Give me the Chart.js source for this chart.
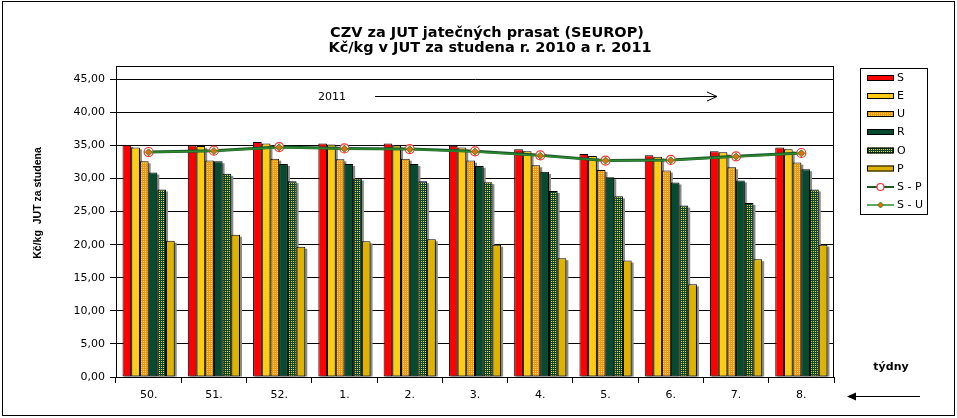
<!DOCTYPE html>
<html>
<head>
<meta charset="utf-8">
<script src="https://cdn.jsdelivr.net/npm/chart.js@4/dist/chart.umd.min.js"></script>
<style>
html,body{margin:0;padding:0;background:#fff;}
canvas{display:block;}
</style>
</head>
<body>
<canvas id="c" width="957" height="418"></canvas>
<script>
// ---- data ----
const categories = ['50.','51.','52.','1.','2.','3.','4.','5.','6.','7.','8.'];
const seriesS = [35.05,35.0,35.5,35.3,35.3,34.95,34.4,33.7,33.5,34.1,34.7];
const seriesE = [34.7,34.9,35.3,35.15,35.0,34.7,34.1,33.4,33.3,33.95,34.4];
const seriesU = [32.6,32.7,33.0,32.9,33.0,32.7,32.0,31.3,31.2,31.7,32.4];
const seriesR = [30.9,32.6,32.2,32.2,32.2,31.9,31.0,30.2,29.4,29.7,31.4];
const seriesO = [28.35,30.7,29.6,30.0,29.6,29.45,28.1,27.3,25.9,26.3,28.35];
const seriesP = [20.6,21.5,19.7,20.5,20.8,20.0,17.95,17.6,14.0,17.8,20.0];
const seriesSP = [34.0,34.2,34.75,34.55,34.45,34.1,33.5,32.7,32.8,33.35,33.85];
const seriesSU = [33.95,34.15,34.7,34.5,34.4,34.05,33.45,32.7,32.75,33.3,33.8];
const yTicks = [0,5,10,15,20,25,30,35,40,45];
const titleLines = ['CZV za JUT jatečných prasat (SEUROP)','Kč/kg v JUT za studena r. 2010 a r. 2011'];
const yTitle = 'Kč/kg  JUT za studena';
const xTitle = 'týdny';
const yearLabel = '2011';

// ---- patterns ----
const ctx0 = document.getElementById('c').getContext('2d');
function dotPattern(bg, dot){
  const c = document.createElement('canvas'); c.width = 2; c.height = 2;
  const x = c.getContext('2d');
  x.fillStyle = bg; x.fillRect(0,0,2,2);
  x.fillStyle = dot; x.fillRect(1,1,1,1);
  return ctx0.createPattern(c,'repeat');
}
const patU = dotPattern('#EE9A10', '#FFD060');
const patO = dotPattern('#0A4526', '#E8E020');

const barStyles = [
  {label:'S', data:seriesS, bg:'#FF0000'},
  {label:'E', data:seriesE, bg:'#FFCC14'},
  {label:'U', data:seriesU, bg:patU},
  {label:'R', data:seriesR, bg:'#064A30'},
  {label:'O', data:seriesO, bg:patO},
  {label:'P', data:seriesP, bg:'#DDB300'}
];

const datasets = barStyles.map(b => ({
  type:'bar', label:b.label, data:b.data, backgroundColor:b.bg,
  borderColor:'#000', borderWidth:1, borderSkipped:false, order:2,
  categoryPercentage:0.8, barPercentage:1.0
}));
datasets.push({
  type:'line', label:'S - P', data:seriesSP, borderColor:'#1A5A2C', borderWidth:3,
  pointStyle:'circle', pointRadius:4.5, pointBorderColor:'#FF3030', pointBackgroundColor:'rgba(255,255,255,0.85)',
  pointBorderWidth:1.2, tension:0, order:1, fill:false
});
datasets.push({
  type:'line', label:'S - U', data:seriesSU, borderColor:'#2E8A2E', borderWidth:1.5,
  pointStyle:'rectRot', pointRadius:3.5, pointBorderColor:'#3A8A20', pointBackgroundColor:'#E0700F',
  pointBorderWidth:1, tension:0, order:0, fill:false
});

const decor = {
  id:'decor',
  beforeDraw(chart){
    const c = chart.ctx;
    c.save(); c.fillStyle='#fff'; c.fillRect(0,0,chart.width,chart.height); c.restore();
  },
  beforeDatasetsDraw(chart){
    const c = chart.ctx;
    c.save();
    c.fillStyle = '#8a8a8a';
    chart.data.datasets.forEach((ds,i) => {
      if (ds.type !== 'bar') return;
      chart.getDatasetMeta(i).data.forEach(el => {
        const w = el.width;
        c.fillRect(el.x - w/2 + 2, el.y + 2, w, el.base - el.y - 2);
      });
    });
    c.restore();
  },
  afterDraw(chart){
    const c = chart.ctx;
    const a = chart.chartArea;
    c.save();
    // plot box
    c.strokeStyle = '#000'; c.lineWidth = 1;
    c.strokeRect(Math.round(a.left)+0.5, Math.round(a.top)+0.5, Math.round(a.right-a.left)-1, Math.round(a.bottom-a.top));
    // outer border
    c.strokeRect(2.5, 1.5, 952, 414);
    // title
    c.fillStyle = '#000';
    c.textAlign = 'center'; c.textBaseline = 'alphabetic';
    c.font = 'bold 14.5px "DejaVu Sans"';
    c.fillText(titleLines[0], 487, 36.5);
    c.fillText(titleLines[1], 490, 51.5);
    c.textBaseline = 'middle';
    // y title
    c.save();
    c.translate(38, 203);
    c.rotate(-Math.PI/2);
    c.font = 'bold 10.5px "Liberation Sans"';
    c.fillText(yTitle, 0, 0);
    c.restore();
    // 2011 label and arrow
    c.font = '11px "DejaVu Sans"';
    c.textAlign = 'left';
    c.fillText(yearLabel, 318, 97);
    c.beginPath();
    c.moveTo(375, 96.5); c.lineTo(717, 96.5);
    c.moveTo(707, 92); c.lineTo(717, 96.5); c.lineTo(707, 101);
    c.stroke();
    // x title and arrow
    c.textAlign = 'center';
    c.font = 'bold 11px "DejaVu Sans"';
    c.fillText(xTitle, 891, 367);
    c.beginPath(); c.moveTo(854, 396.5); c.lineTo(920, 396.5); c.stroke();
    c.beginPath(); c.moveTo(847, 396.5); c.lineTo(856, 392.5); c.lineTo(856, 400.5); c.closePath(); c.fill();
    // legend
    c.strokeRect(860.5, 68.5, 67, 146);
    const ys = [78,96,114,132,150.5,168.5,187,205];
    c.textAlign = 'left';
    c.font = '11px "DejaVu Sans"';
    barStyles.forEach((b,i) => {
      c.fillStyle = b.bg;
      c.fillRect(867, ys[i]-3, 27, 6);
      c.strokeStyle = '#000';
      c.strokeRect(867.5, ys[i]-2.5, 26, 5);
      c.fillStyle = '#000';
      c.fillText(b.label, 897, ys[i]+0.5);
    });
    // S - P
    c.strokeStyle = '#1A5A2C'; c.lineWidth = 2;
    c.beginPath(); c.moveTo(867, ys[6]); c.lineTo(894, ys[6]); c.stroke();
    c.strokeStyle = '#FF3030'; c.lineWidth = 1.2; c.fillStyle = '#fff';
    c.beginPath(); c.arc(880.5, ys[6], 3.5, 0, Math.PI*2); c.fill(); c.stroke();
    c.fillStyle = '#000';
    c.fillText('S - P', 897, ys[6]+0.5);
    // S - U
    c.strokeStyle = '#2E8A2E'; c.lineWidth = 1.5;
    c.beginPath(); c.moveTo(867, ys[7]); c.lineTo(894, ys[7]); c.stroke();
    c.fillStyle = '#E0700F'; c.strokeStyle = '#3A8A20'; c.lineWidth = 1;
    c.beginPath(); c.moveTo(880.5, ys[7]-3); c.lineTo(883.5, ys[7]); c.lineTo(880.5, ys[7]+3); c.lineTo(877.5, ys[7]); c.closePath(); c.fill(); c.stroke();
    c.fillStyle = '#000';
    c.fillText('S - U', 897, ys[7]+0.5);
    c.restore();
  }
};

new Chart(document.getElementById('c'), {
  type:'bar',
  data:{ labels:categories, datasets:datasets },
  options:{
    responsive:false, animation:false, devicePixelRatio:1,
    layout:{ padding:{ left:0, right:123, top:66, bottom:0 } },
    plugins:{ legend:{display:false}, title:{display:false}, tooltip:{enabled:false} },
    scales:{
      x:{
        offset:true,
        grid:{ display:true, drawOnChartArea:false, drawTicks:true, tickLength:6, color:'#000', offset:true },
        border:{ color:'#000' },
        ticks:{ font:{family:'DejaVu Sans', size:11}, color:'#000', padding:6, maxRotation:0 },
        afterFit(s){ s.height = 41; }
      },
      y:{
        min:0, max:47,
        grid:{ color:'#000', tickLength:6, drawTicks:true },
        border:{ color:'#000' },
        ticks:{ stepSize:5, font:{family:'DejaVu Sans', size:11}, color:'#000', padding:5,
          callback:(v) => v.toFixed(2).replace('.', ',') },
        afterBuildTicks(s){ s.ticks = yTicks.map(v => ({value:v})); },
        afterFit(s){ s.width = 116; }
      }
    }
  },
  plugins:[decor]
});
</script>
</body>
</html>
